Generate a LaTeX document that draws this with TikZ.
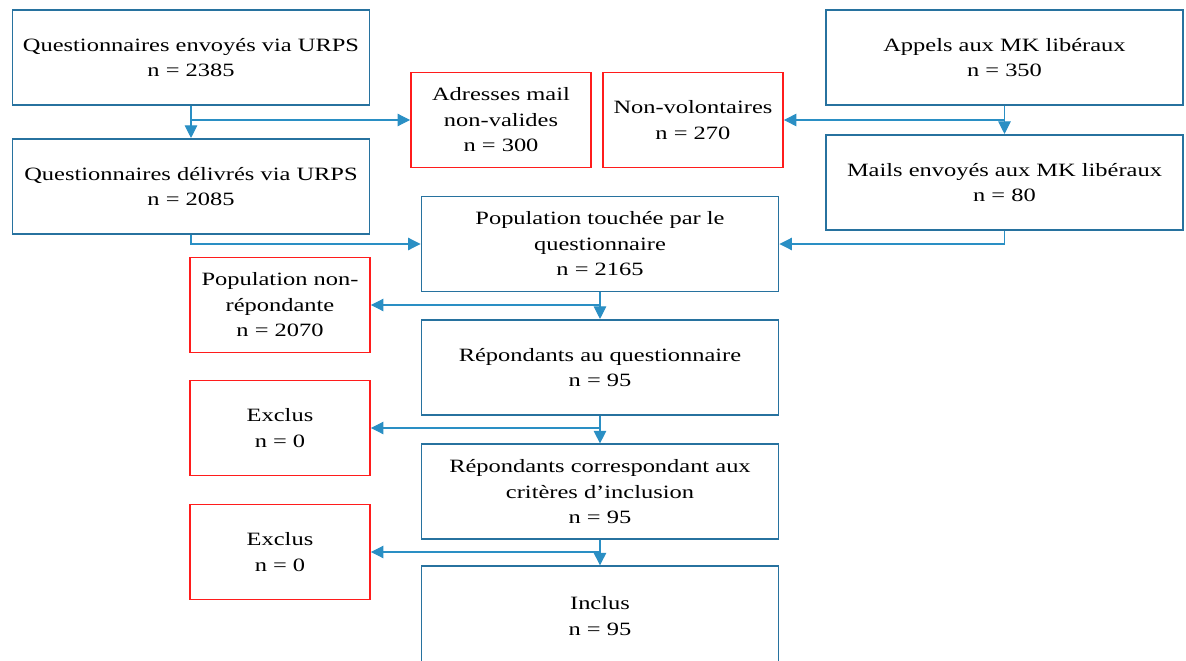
\documentclass[tikz,border=0pt]{standalone}
\usepackage{fontspec}
\setmainfont{Liberation Serif}[FakeStretch=1.3]
\usepackage{tikz}
\usetikzlibrary{arrows.meta,positioning}
\definecolor{BoxBlue}{HTML}{27729F}
\definecolor{FlowBlue}{HTML}{2A8FC4}
\definecolor{ExclRed}{HTML}{FF1C1C}

\begin{document}
\begin{tikzpicture}[
    font=\fontsize{10.7}{14.5}\selectfont,
    mainbox/.style={draw=BoxBlue, line width=1.1pt, align=center, minimum width=7.14cm, minimum height=1.9cm, inner sep=0pt},
    exclbox/.style={draw=ExclRed, line width=1.1pt, align=center, minimum width=3.6cm, minimum height=1.9cm, inner sep=0pt},
    arr/.style={-{Triangle[length=2.5mm,width=2.5mm]}, line width=0.6pt, draw=FlowBlue}
]
\useasboundingbox (0,0) rectangle (23.72,-13.22);

% Deux sources : URPS à gauche, appels à droite
\node[mainbox] (sent) at (3.82,-1.15) {Questionnaires envoyés via URPS\\n = 2385};
\node[mainbox, below=0.64cm of sent] (delivered) {Questionnaires délivrés via URPS\\n = 2085};
\node[mainbox] (calls) at (20.09,-1.15) {Appels aux MK libéraux\\n = 350};
\node[mainbox, below=0.56cm of calls] (mails) {Mails envoyés aux MK libéraux\\n = 80};

% Pertes entre les deux colonnes
\node[exclbox] (invalid) at (10.02,-2.40) {Adresses mail\\non-valides\\n = 300};
\node[exclbox, right=0.2cm of invalid] (refused) {Non-volontaires\\n = 270};

% Colonne centrale
\node[mainbox] (reached) at (12.0,-4.88) {Population touchée par le\\questionnaire\\n = 2165};
\node[mainbox, below=0.53cm of reached] (resp) {Répondants au questionnaire\\n = 95};
\node[mainbox, below=0.55cm of resp] (eligible) {Répondants correspondant aux\\critères d’inclusion\\n = 95};
\node[mainbox, below=0.5cm of eligible, minimum height=2cm] (incl) {Inclus\\n = 95};

% Exclusions à gauche
\node[exclbox] (nonresp) at (5.6,-6.10) {Population non-\\répondante\\n = 2070};
\node[exclbox] (excl1) at (5.6,-8.56) {Exclus\\n = 0};
\node[exclbox] (excl2) at (5.6,-11.04) {Exclus\\n = 0};

% Flux
\draw[arr] (sent.south) -- (delivered.north);
\draw[arr] (sent.south) |- (invalid.west);
\draw[arr] (calls.south) -- (mails.north);
\draw[arr] (calls.south) |- (refused.east);
\draw[arr] (delivered.south) |- (reached.west);
\draw[arr] (mails.south) |- (reached.east);
\draw[arr] (reached.south) -- (resp.north);
\draw[arr] (reached.south) |- (nonresp.east);
\draw[arr] (resp.south) -- (eligible.north);
\draw[arr] (resp.south) |- (excl1.east);
\draw[arr] (eligible.south) -- (incl.north);
\draw[arr] (eligible.south) |- (excl2.east);
\end{tikzpicture}
\end{document}
